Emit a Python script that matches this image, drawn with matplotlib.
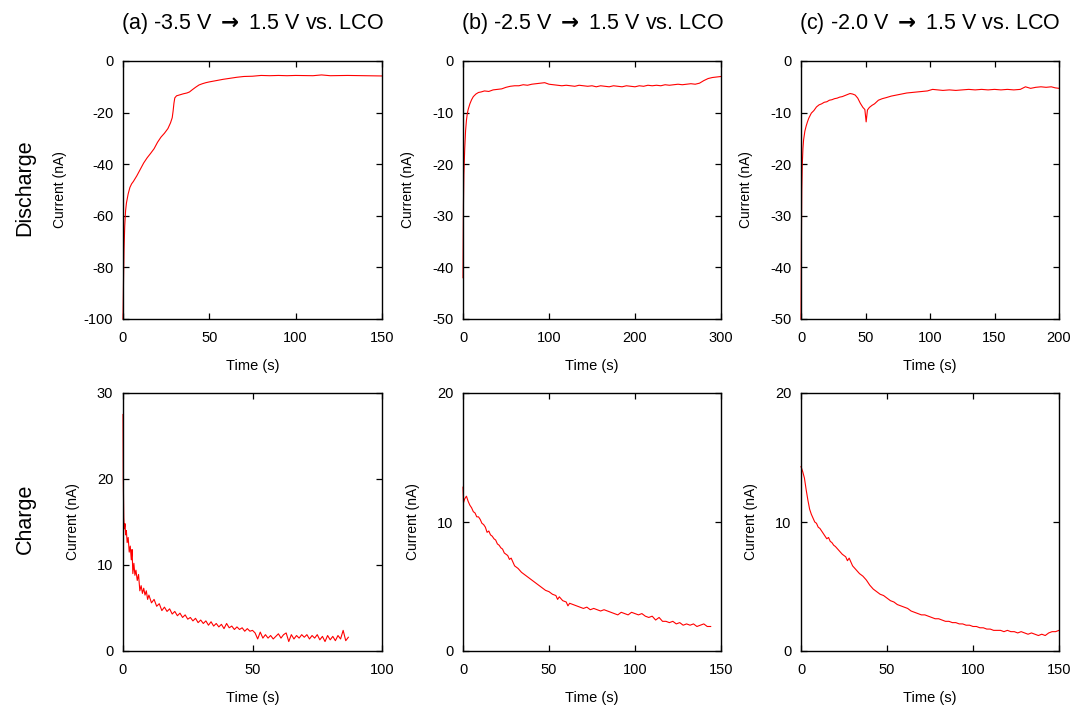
import matplotlib
matplotlib.use("Agg")
import matplotlib.pyplot as plt

plt.rcParams['font.family'] = ['Liberation Sans', 'DejaVu Sans']
plt.rcParams['axes.unicode_minus'] = False

# ---- discharge (a) -3.5 V -> 1.5 V
t_a_dis = [0, 0.3, 0.6, 1, 1.5, 2, 3, 4, 5, 6, 8, 10, 12, 14, 16, 18, 20, 22, 24, 26,
           27.5, 28.5, 29, 29.5, 30, 31, 33, 35, 37, 38.5, 40, 42, 44, 46, 48, 50, 54, 58,
           62, 66, 70, 75, 80, 85, 90, 95, 100, 110, 115, 120, 130, 140, 150]
i_a_dis = [-100, -85, -73, -64, -58, -55, -51.5, -49, -47.6, -46.7, -44.5, -42, -39.5, -37.5,
           -35.8, -34, -31.5, -29.5, -28, -26.2, -24, -22, -19.5, -16.4, -14.3, -13.5, -13.1,
           -12.7, -12.4, -12.0, -11.2, -10.2, -9.3, -8.8, -8.4, -8.1, -7.6, -7.1, -6.7, -6.3,
           -6.0, -5.9, -5.6, -5.7, -5.6, -5.7, -5.6, -5.7, -5.4, -5.7, -5.6, -5.7, -5.8]

# ---- discharge (b) -2.5 V -> 1.5 V
t_b_dis = [0, 0.5, 1, 2, 3, 4, 5, 6, 8, 10, 12, 15, 18, 21, 25, 30, 35, 40, 45, 50, 55, 60,
           65, 70, 75, 80, 85, 90, 95, 100, 105, 110, 115, 120, 125, 130, 135, 140, 145, 150,
           155, 160, 165, 170, 175, 180, 185, 190, 195, 200, 205, 210, 215, 220, 225, 230,
           235, 240, 245, 250, 255, 260, 265, 270, 275, 280, 285, 290, 295, 300]
i_b_dis = [-42, -28, -22, -17, -13.5, -11.5, -10.2, -9.4, -8.3, -7.5, -6.9, -6.4, -6.1, -6.0,
           -5.8, -5.9, -5.6, -5.5, -5.4, -5.1, -4.9, -4.8, -4.8, -4.6, -4.7, -4.5, -4.4, -4.3,
           -4.2, -4.5, -4.6, -4.7, -4.8, -4.7, -4.8, -4.9, -4.7, -4.8, -4.9, -4.8, -5.0, -4.8,
           -4.9, -5.0, -4.8, -4.9, -5.0, -4.8, -4.9, -5.0, -4.8, -4.9, -4.7, -4.8, -4.7, -4.8,
           -4.6, -4.7, -4.6, -4.5, -4.6, -4.5, -4.4, -4.5, -4.3, -3.8, -3.4, -3.2, -3.1, -3.0]

# ---- discharge (c) -2.0 V -> 1.5 V
t_c_dis = [0, 0.3, 0.6, 1, 1.5, 2, 3, 4, 5, 6, 7, 8, 10, 12, 14, 16, 18, 20, 22, 24, 26, 28,
           30, 32, 34, 36, 38, 40, 42, 44, 46, 48, 49.5, 50.5, 51.5, 53, 55, 57, 60, 63, 66,
           70, 74, 78, 82, 86, 90, 94, 98, 102, 106, 110, 115, 120, 125, 130, 135, 140, 145,
           150, 155, 160, 165, 170, 174, 178, 182, 186, 190, 194, 197, 200]
i_c_dis = [-50, -35, -25, -20, -17, -15.3, -13.6, -12.6, -11.8, -11.1, -10.6, -10.1, -9.6,
           -8.9, -8.5, -8.3, -8.0, -7.9, -7.6, -7.5, -7.3, -7.2, -7.0, -6.9, -6.7, -6.5, -6.3,
           -6.4, -6.6, -7.2, -8.2, -9.0, -9.4, -11.8, -9.5, -9.0, -8.6, -8.3, -7.6, -7.3, -7.1,
           -6.8, -6.6, -6.4, -6.2, -6.1, -6.0, -5.9, -5.8, -5.5, -5.6, -5.7, -5.6, -5.7, -5.6,
           -5.5, -5.6, -5.5, -5.6, -5.5, -5.6, -5.5, -5.6, -5.5, -5.0, -5.3, -5.1, -5.0, -5.1,
           -5.0, -5.2, -5.3]

# ---- charge (a)
t_a_chg = [0, 0.1, 0.3, 0.5, 0.8, 1.0, 1.3, 1.6, 2.0, 2.4, 2.8, 3.2, 3.5, 3.8, 4.2, 4.6, 5.0,
           5.5, 6, 6.5, 7, 7.5, 8, 8.5, 9, 9.5, 10, 11, 12, 13, 14, 15, 16, 17, 18, 19, 20,
           21, 22, 23, 24, 25, 26, 27, 28, 29, 30, 31, 32, 33, 34, 35, 36, 37, 38, 39, 40,
           41, 42, 43, 44, 45, 46, 47, 48, 49, 50, 51, 52, 53, 54, 55, 56, 57, 58, 59, 60,
           61, 62, 63, 64, 65, 66, 67, 68, 69, 70, 71, 72, 73, 74, 75, 76, 77, 78, 79, 80,
           81, 82, 83, 84, 85, 86, 87]
i_a_chg = [27.5, 20, 15.5, 14.2, 14.8, 13.5, 14.0, 12.6, 13.2, 11.5, 12.2, 10.6, 11.8, 9.0,
           10.2, 8.8, 9.4, 8.2, 8.9, 7.0, 7.6, 6.7, 7.3, 6.5, 7.0, 6.0, 6.5, 5.6, 6.0, 5.2,
           5.5, 4.7, 5.1, 4.6, 4.9, 4.3, 4.6, 4.1, 4.4, 3.9, 4.2, 3.7, 3.9, 3.5, 3.8, 3.3,
           3.6, 3.2, 3.5, 3.0, 3.4, 2.9, 3.2, 2.8, 3.1, 2.6, 3.2, 2.7, 2.9, 2.5, 2.8, 2.5,
           2.7, 2.3, 2.6, 2.3, 2.4, 2.1, 1.4, 2.2, 1.5, 1.9, 1.5, 1.8, 1.4, 1.7, 2.0, 1.5,
           1.9, 2.1, 1.1, 1.9, 1.4, 1.8, 1.5, 1.9, 1.6, 1.9, 1.4, 1.8, 1.5, 1.9, 1.3, 1.7,
           1.1, 1.8, 1.3, 1.7, 1.2, 1.8, 1.4, 2.4, 1.2, 1.6]

# ---- charge (b)
t_b_chg = [0, 0.3, 1, 2, 3, 4, 5, 6, 7, 8, 9, 10, 11, 12, 13, 14, 15, 16, 17, 18, 19, 20,
           21, 22, 23, 24, 25, 26, 27, 28, 29, 30, 32, 34, 36, 38, 40, 42, 44, 46, 48, 50,
           52, 54, 55, 56, 58, 60, 61, 62, 64, 66, 68, 70, 72, 74, 76, 78, 80, 82, 84, 86,
           88, 90, 92, 94, 96, 98, 100, 102, 104, 106, 108, 110, 112, 114, 116, 118, 120,
           122, 124, 126, 128, 130, 132, 134, 136, 138, 140, 142, 144]
i_b_chg = [12.7, 11.5, 11.8, 12.0, 11.6, 11.3, 11.1, 10.8, 10.7, 10.4, 10.4, 10.2, 9.9, 9.8,
           9.6, 9.2, 9.3, 9.0, 8.9, 8.7, 8.6, 8.3, 8.2, 8.0, 7.9, 7.6, 7.5, 7.4, 7.1, 7.2,
           6.9, 6.6, 6.4, 6.1, 5.9, 5.7, 5.5, 5.3, 5.1, 4.9, 4.7, 4.6, 4.4, 4.3, 4.0, 4.2,
           3.9, 3.8, 3.5, 3.7, 3.6, 3.5, 3.4, 3.3, 3.4, 3.2, 3.3, 3.2, 3.1, 3.2, 3.1, 3.0,
           2.9, 2.8, 3.0, 2.9, 2.8, 3.0, 2.9, 2.8, 2.9, 2.7, 2.6, 2.7, 2.4, 2.6, 2.3, 2.3,
           2.2, 2.3, 2.1, 2.2, 2.0, 2.1, 2.0, 2.1, 1.9, 2.0, 2.1, 1.9, 1.9]

# ---- charge (c)
t_c_chg = [0, 1, 2, 3, 4, 5, 6, 7, 8, 9, 10, 11, 12, 13, 14, 15, 16, 17, 18, 19, 20, 22, 24,
           26, 27, 28, 30, 32, 34, 36, 38, 40, 42, 44, 46, 48, 50, 52, 54, 56, 58, 60, 62, 64,
           66, 68, 70, 72, 74, 76, 78, 80, 82, 84, 86, 88, 90, 92, 94, 96, 98, 100, 102, 104,
           106, 108, 110, 112, 114, 116, 118, 120, 122, 124, 126, 128, 130, 132, 134, 136,
           138, 140, 142, 144, 146, 148, 150]
i_c_chg = [14.3, 13.9, 13.4, 12.5, 11.7, 11.0, 10.6, 10.3, 10.0, 9.9, 9.6, 9.5, 9.3, 9.1,
           8.9, 8.7, 8.8, 8.5, 8.4, 8.2, 8.1, 7.8, 7.5, 7.3, 7.0, 7.2, 6.6, 6.3, 6.0, 5.8,
           5.5, 5.1, 4.8, 4.6, 4.4, 4.3, 4.1, 3.9, 3.8, 3.6, 3.5, 3.4, 3.3, 3.1, 3.0, 2.9,
           2.8, 2.8, 2.7, 2.6, 2.5, 2.5, 2.4, 2.3, 2.3, 2.2, 2.2, 2.1, 2.1, 2.0, 2.0, 1.9,
           1.9, 1.8, 1.8, 1.7, 1.7, 1.6, 1.6, 1.6, 1.5, 1.6, 1.5, 1.5, 1.4, 1.5, 1.4, 1.3,
           1.4, 1.3, 1.2, 1.3, 1.2, 1.4, 1.5, 1.5, 1.6]

titles = [r'(a) -3.5 V $\mathbf{\rightarrow}$ 1.5 V vs. LCO',
          r'(b) -2.5 V $\mathbf{\rightarrow}$ 1.5 V vs. LCO',
          r'(c) -2.0 V $\mathbf{\rightarrow}$ 1.5 V vs. LCO']

top = [(t_a_dis, i_a_dis, (0, 150), [0, 50, 100, 150], (-100, 0), [-100, -80, -60, -40, -20, 0]),
       (t_b_dis, i_b_dis, (0, 300), [0, 100, 200, 300], (-50, 0), [-50, -40, -30, -20, -10, 0]),
       (t_c_dis, i_c_dis, (0, 200), [0, 50, 100, 150, 200], (-50, 0), [-50, -40, -30, -20, -10, 0])]
bot = [(t_a_chg, i_a_chg, (0, 100), [0, 50, 100], (0, 30), [0, 10, 20, 30]),
       (t_b_chg, i_b_chg, (0, 150), [0, 50, 100, 150], (0, 20), [0, 10, 20]),
       (t_c_chg, i_c_chg, (0, 150), [0, 50, 100, 150], (0, 20), [0, 10, 20])]

W, H = 1076, 706
fig = plt.figure(figsize=(W / 100, H / 100), dpi=100)

lefts = [123, 463, 801]
widths = [259, 258, 258]
rows = [(61, 319), (393, 651)]

def setup(ax, xl, xt, yl, yt):
    ax.set_xlim(*xl)
    ax.set_xticks(xt)
    ax.set_ylim(*yl)
    ax.set_yticks(yt)
    ax.tick_params(direction='in', top=True, right=True, length=4, width=0.9,
                   labelsize=10.5)
    ax.tick_params(axis='x', pad=9)
    ax.tick_params(axis='y', pad=7)
    for s in ax.spines.values():
        s.set_linewidth(1.0)
    ax.set_xlabel('Time (s)', fontsize=10.5, labelpad=10)
    ax.set_ylabel('Current (nA)', fontsize=10, labelpad=12)

for r, data in enumerate([top, bot]):
    y0, y1 = rows[r]
    for k in range(3):
        t, cur, xl, xt, yl, yt = data[k]
        ax = fig.add_axes([lefts[k] / W, 1 - y1 / H, widths[k] / W, (y1 - y0) / H])
        ax.plot(t, cur, color='red', lw=0.8, clip_on=False)
        setup(ax, xl, xt, yl, yt)
        if r == 0:
            fig.text((lefts[k] + widths[k] / 2) / W, 1 - 24 / H, titles[k],
                     ha='center', va='center', fontsize=15.5)

fig.text(25 / W, 1 - 188 / H, 'Discharge', rotation=90, ha='center', va='center', fontsize=15.5)
fig.text(25 / W, 1 - 519 / H, 'Charge', rotation=90, ha='center', va='center', fontsize=15.5)

fig.savefig('out.png', dpi=100)
